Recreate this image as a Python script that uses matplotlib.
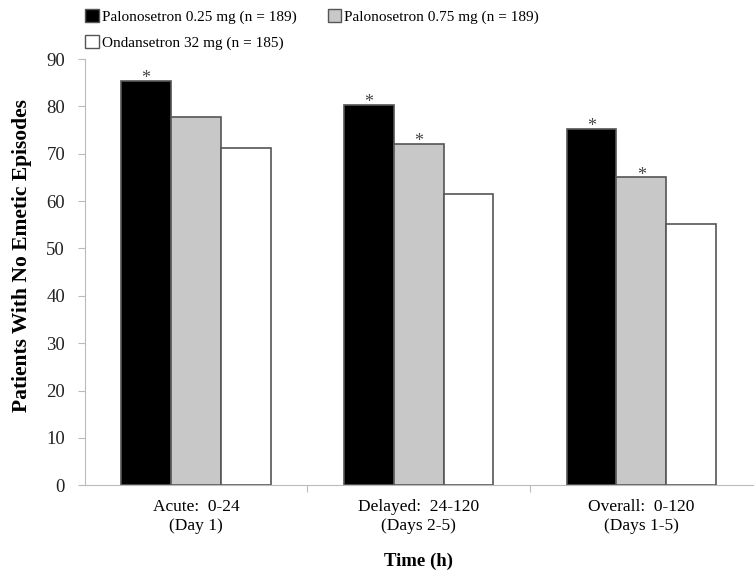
import numpy as np
import matplotlib
matplotlib.use('Agg')
import matplotlib.pyplot as plt
from matplotlib.patches import Patch

plt.rcParams['font.family'] = ['Liberation Serif', 'DejaVu Serif']

categories = ['Acute:  0-24\n(Day 1)', 'Delayed:  24-120\n(Days 2-5)', 'Overall:  0-120\n(Days 1-5)']
series_names = ['Palonosetron 0.25 mg (n = 189)',
                'Palonosetron 0.75 mg (n = 189)',
                'Ondansetron 32 mg (n = 185)']
palo_025 = [85.3, 80.3, 75.2]
palo_075 = [77.7, 72.0, 65.0]
ondan_32 = [71.3, 61.5, 55.1]
# which bars carry an asterisk (series index, category index)
stars = [(0, 0), (0, 1), (1, 1), (0, 2), (1, 2)]

colors = ['black', '#c8c8c8', 'white']
values = [palo_025, palo_075, ondan_32]

fig = plt.figure(figsize=(7.55, 5.73), dpi=100)
ax = fig.add_axes([0.112, 0.153, 0.885, 0.744])

x = np.arange(len(categories))
w = 0.224
for i, (vals, c) in enumerate(zip(values, colors)):
    ax.bar(x + (i - 1) * w, vals, width=w, color=c, edgecolor='#555555',
           linewidth=1.2, label=series_names[i])

for si, ci in stars:
    ax.text(x[ci] + (si - 1) * w, values[si][ci] - 1.3, '*', ha='center', va='bottom',
            fontsize=13, color='#444444')

ax.set_xlim(-0.5, 2.5)
ax.set_ylim(0, 90)
ax.set_yticks(range(0, 91, 10))
ax.set_xticks([0.5, 1.5])
ax.set_xticklabels([])
ax.set_xticks(x, minor=True)
ax.set_xticklabels(categories, minor=True, fontsize=12.5)
ax.tick_params(axis='x', which='minor', length=0, pad=10)
ax.tick_params(axis='x', which='major', length=5, color='#bbbbbb', direction='out')
ax.tick_params(axis='y', length=5, color='#bbbbbb', labelsize=13.5, labelcolor='#222222', pad=9)

for s in ['top', 'right']:
    ax.spines[s].set_visible(False)
for s in ['left', 'bottom']:
    ax.spines[s].set_color('#bbbbbb')

ax.set_ylabel('Patients With No Emetic Episodes', fontsize=15.5, fontweight='bold')
ax.yaxis.set_label_coords(-0.078, 0.54)
ax.set_xlabel('Time (h)', fontsize=13.5, fontweight='bold', labelpad=14)

handles = [Patch(facecolor=c, edgecolor='#555555', label=n) for c, n in zip(colors, series_names)]
fig.legend([handles[0], handles[2], handles[1]],
           [series_names[0], series_names[2], series_names[1]],
           ncol=2, loc='upper left', bbox_to_anchor=(0.095, 1.008), frameon=False,
           fontsize=11, handlelength=0.9, handleheight=0.9, handletextpad=0.2,
           columnspacing=2.0, labelspacing=0.75)

fig.savefig('out.png', dpi=100)
